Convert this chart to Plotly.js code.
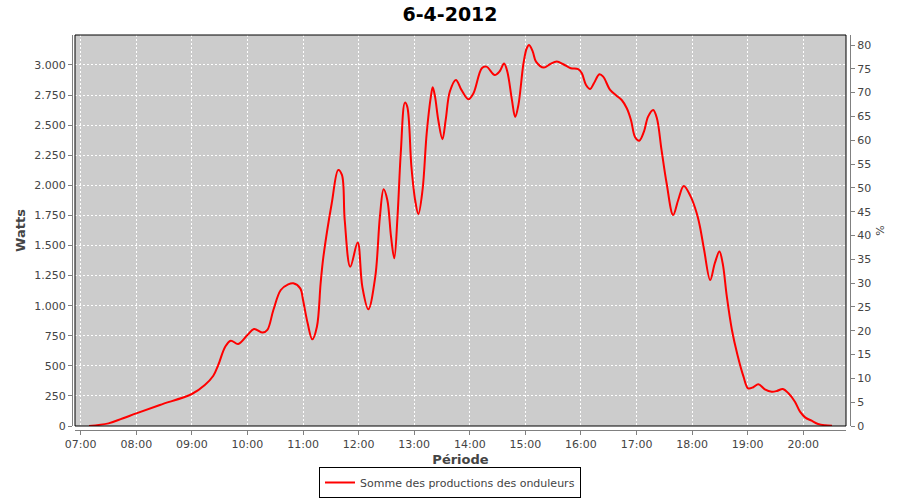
<!DOCTYPE html>
<html>
<head>
<meta charset="utf-8">
<script src="https://cdn.plot.ly/plotly-3.0.1.min.js"></script>
<style>html,body{margin:0;padding:0;background:#fff;}#chart{width:900px;height:500px;}</style>
</head>
<body>
<div id="chart"></div>
<script>
const chartTitle = '6-4-2012';
const day = '2012-04-06';
const seriesName = 'Somme des productions des onduleurs';
const times = [
 '07:09:00','07:30:00','07:45:00','08:00:00','08:25:30','09:00:00','09:14:00','09:23:00','09:28:30','09:36:00',
 '09:42:00','09:50:00','10:00:00','10:07:00','10:16:30','10:21:30','10:28:00','10:36:00','10:44:00','10:49:30',
 '10:57:00','11:00:00','11:05:00','11:10:00','11:15:00','11:19:00','11:22:00','11:31:00','11:38:00','11:42:00',
 '11:45:00','11:51:00','11:59:00','12:04:00','12:10:30','12:18:00','12:23:00','12:27:00','12:31:00','12:35:00',
 '12:38:30','12:42:00','12:45:30','12:50:00','12:52:30','12:57:00','13:01:00','13:04:30','13:09:00','13:13:30',
 '13:18:00','13:20:00','13:22:30','13:26:00','13:30:30','13:34:00','13:38:30','13:45:00','13:51:00','13:58:30',
 '14:04:00','14:13:00','14:18:00','14:27:00','14:32:30','14:37:00','14:40:30','14:45:30','14:49:00','14:52:30',
 '14:58:00','15:01:30','15:04:00','15:08:00','15:11:30','15:20:00','15:26:30','15:34:00','15:41:00','15:49:00',
 '15:57:00','16:01:00','16:05:30','16:10:00','16:14:00','16:20:00','16:24:00','16:31:30','16:38:30','16:44:00',
 '16:49:30','16:54:00','16:58:30','17:03:00','17:08:00','17:12:30','17:18:00','17:22:00','17:27:00','17:32:30',
 '17:39:30','17:45:00','17:51:00','17:58:30','18:05:00','18:08:30','18:13:00','18:19:30','18:24:30','18:29:30',
 '18:33:00','18:37:30','18:43:00','18:49:00','18:55:30','19:00:30','19:06:00','19:11:30','19:18:30','19:26:00',
 '19:31:30','19:38:00','19:44:00','19:51:00','19:56:30','20:02:00','20:09:00','20:16:00','20:23:30','20:31:00'
];
const watts = [
 0,22,62,105,175,266,341,415,507,659,
 709,681,756,806,776,798,964,1130,1177,1186,
 1144,1047,853,720,825,1186,1407,1851,2128,2086,
 1712,1324,1524,1158,970,1241,1740,1967,1878,1573,
 1394,1740,2266,2687,2654,2155,1878,1762,1961,2433,
 2737,2815,2737,2543,2383,2543,2779,2876,2793,2715,
 2765,2973,2986,2917,2950,3012,2945,2710,2568,2668,
 3014,3139,3166,3111,3028,2978,3006,3028,3006,2973,
 2965,2931,2834,2801,2848,2923,2903,2793,2745,2709,
 2640,2543,2399,2371,2446,2571,2626,2557,2294,2017,
 1754,1878,1995,1906,1768,1656,1463,1213,1352,1449,
 1352,1075,798,590,410,313,322,347,305,285,
 291,308,272,202,119,72,44,17,6,2
];
const xRange = ['06:53:51','20:46:08'];
const wattsRange = [0, 3249];
const pctRange = [0, 82.1];

const grey = '#808080';
const txt = '#444444';
const font = 'DejaVu Sans';

const trace = {
  x: times.map(t => day + ' ' + t),
  y: watts,
  type: 'scatter',
  mode: 'lines',
  name: seriesName,
  line: {color: '#ff0000', width: 2, shape: 'spline', smoothing: 1},
  showlegend: true,
  hoverinfo: 'x+y'
};
// empty series bound to the percentage axis so that the axis is drawn
const pctTrace = {
  x: [], y: [], type: 'scatter', mode: 'lines', yaxis: 'y2',
  showlegend: false, hoverinfo: 'skip'
};

const layout = {
  width: 900, height: 500,
  margin: {l: 72, r: 50, t: 35, b: 70, pad: 0},
  paper_bgcolor: '#ffffff',
  plot_bgcolor: '#cccccc',
  separators: ',.',
  font: {family: font, size: 11, color: txt},
  title: {text: chartTitle, font: {family: font, size: 19, color: '#000', weight: 'bold'},
          x: 0.5, xref: 'container', xanchor: 'center', y: 1 - 14/500, yref: 'container', yanchor: 'middle'},
  xaxis: {
    type: 'date', domain: [3/778, 774/778], anchor: 'free', position: 0,
    range: xRange.map(t => day + ' ' + t),
    tickformat: '%H:%M', dtick: 3600000, tick0: day + ' 07:00:00',
    ticks: 'outside', ticklen: 4, tickcolor: grey, tickwidth: 1,
    showline: true, linecolor: grey, linewidth: 1,
    showgrid: true, gridcolor: '#ffffff', griddash: '2px,2px', gridwidth: 1,
    zeroline: false, tickfont: {size: 11, color: txt},
    title: {text: 'Période', font: {size: 13, weight: 'bold', color: txt}, standoff: 6}
  },
  yaxis: {
    domain: [4/395, 1], anchor: 'free', position: 0,
    range: wattsRange, dtick: 250, tick0: 0, tickformat: ',d',
    ticks: 'outside', ticklen: 4, tickcolor: grey, tickwidth: 1,
    showline: true, linecolor: grey, linewidth: 1,
    showgrid: true, gridcolor: '#ffffff', griddash: '2px,2px', gridwidth: 1,
    zeroline: false, tickfont: {size: 11, color: txt},
    title: {text: 'Watts', font: {size: 13, weight: 'bold', color: txt}, standoff: 4}
  },
  yaxis2: {
    overlaying: 'y', side: 'right', anchor: 'free', position: 1,
    range: pctRange, dtick: 5, tick0: 0,
    ticks: 'outside', ticklen: 4, tickcolor: grey, tickwidth: 1,
    showline: true, linecolor: grey, linewidth: 1,
    showgrid: false, zeroline: false, tickfont: {size: 11, color: txt},
    title: {text: '%', font: {size: 11, color: txt}, standoff: 6}
  },
  shapes: [{type: 'rect', xref: 'x domain', yref: 'y domain', x0: 0, x1: 1, y0: 0, y1: 1,
            line: {color: '#000', width: 1}, layer: 'above'}],
  legend: {
    orientation: 'h', xref: 'container', x: 0.5, xanchor: 'center',
    yref: 'container', y: 2/500, yanchor: 'bottom',
    bordercolor: '#000', borderwidth: 1, bgcolor: '#fff',
    font: {size: 11, color: txt}
  },
  showlegend: true
};

Plotly.newPlot('chart', [trace, pctTrace], layout, {displayModeBar: false, staticPlot: true});
</script>
</body>
</html>
